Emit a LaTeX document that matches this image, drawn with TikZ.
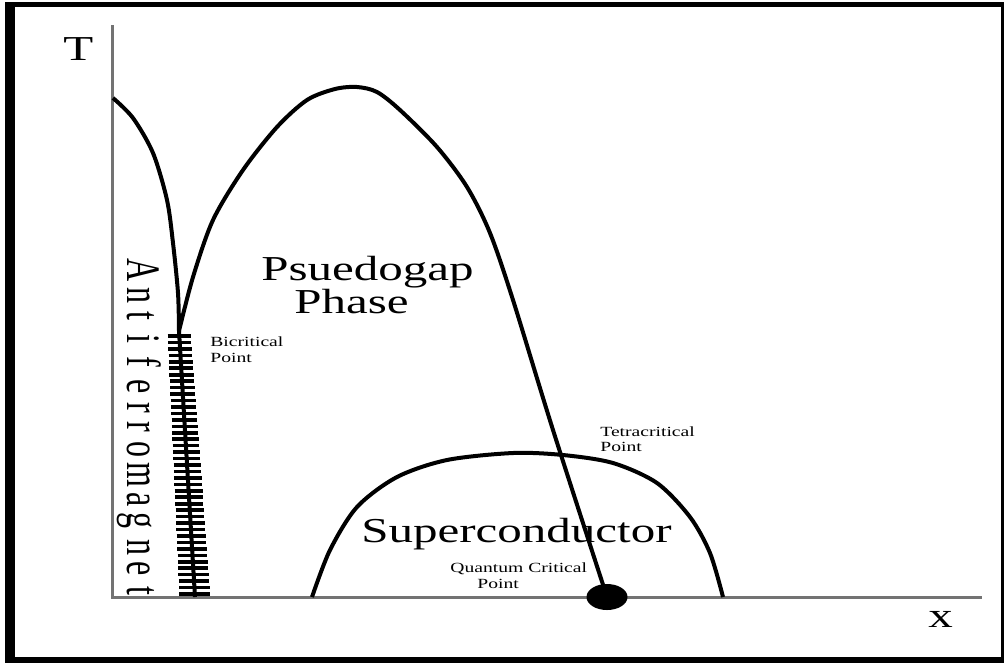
\documentclass[tikz,border=0pt]{standalone}
\usepackage{fontspec}
\setmainfont{Liberation Serif}
\usetikzlibrary{shapes.geometric}
\newcommand{\hstretch}[1]{\scalebox{1.4}[1]{#1}}
\begin{document}
\begin{tikzpicture}[x=0.5pt,y=-0.5pt,
  framebar/.style={fill=black},
  axisline/.style={draw=black!55, line width=1.5pt},
  curve/.style={draw=black, line width=2pt, line join=round},
  hatchline/.style={draw=black, line width=2pt},
  hatchtick/.style={draw=black, line width=1.8pt},
  qcpdot/.style={ellipse, fill=black, inner sep=0pt, minimum width=20.5pt, minimum height=13pt},
  biglabel/.style={anchor=base west, inner sep=0pt, font=\fontsize{17.5}{20}\selectfont},
  smalllabel/.style={anchor=base west, inner sep=0pt, font=\fontsize{7}{8}\selectfont},
  afmletter/.style={rotate=-90, anchor=base west, inner sep=0pt, font=\fontsize{16}{18}\selectfont}
]
\useasboundingbox (0,0) rectangle (1005,666);
\fill[white] (0,0) rectangle (1005,666);
% frame
\fill[framebar] (5,2) rectangle (15,663);
\fill[framebar] (5,2) rectangle (1004,7);
\fill[framebar] (1001,2) rectangle (1004,663);
\fill[framebar] (5,657) rectangle (1004,663);
% axes
\coordinate (ytop) at (112,25);
\coordinate (origin) at (112,597);
\coordinate (xend) at (982,597);
\draw[axisline] (ytop) -- (origin) -- (xend);
% key points
\coordinate (afmtop) at (113,98);
\coordinate (bc) at (179,331);
\coordinate (hb) at (195,597);
\coordinate (scL) at (312,597);
\coordinate (scR) at (723,597);
% superconductor dome
\draw[curve] plot[smooth] coordinates {(scL) (330,550) (357,507) (397,477) (447,460) (513,453) (563,455) (613,463) (657,483) (690,517) (710,553) (scR)};
% AFM boundary
\draw[curve] plot[smooth] coordinates {(afmtop) (133,118) (153,153) (167,200) (173,243) (178,293) (bc)};
% quantum critical point
\node[qcpdot] (qcp) at (607,597) {};
% pseudogap boundary
\draw[curve] plot[smooth] coordinates {(bc) (193,277) (213,220) (243,170) (277,127) (307,100) (335,89) (357,87) (377,92) (400,110) (437,147) (467,187) (490,233) (513,300) (553,430) (qcp.center)};
% hatched first-order line
\draw[hatchline] (bc) -- (hb);
\foreach \i in {0,...,40}{
  \pgfmathsetmacro{\yy}{336+\i*6.45}
  \pgfmathsetmacro{\xx}{179+(\yy-331)*16/266}
  \pgfmathsetmacro{\ww}{11.5+4*(\yy-331)/266}
  \draw[hatchtick] (\xx-\ww,\yy) -- (\xx+\ww,\yy);
}
% Antiferromagnet letters
\foreach \l/\yy [count=\k] in {A/258, n/287, t/311, i/334, f/356, e/379, r/402, r/421, o/441, m/462, a/492, g/512, n/539, e/561, t/586}{
  \node[afmletter] (afm\k) at (127,\yy) {\scalebox{1}[1.5]{\l}};
}
% labels
\node[biglabel] (Tlab) at (63,60) {\hstretch{T}};
\node[biglabel] (xlab) at (928,627) {\hstretch{x}};
\node[biglabel] (pg1) at (261,280) {\hstretch{Psuedogap}};
\node[biglabel] (pg2) at (294,313) {\hstretch{Phase}};
\node[biglabel] (sc) at (361,542) {\hstretch{Superconductor}};
\node[smalllabel] (bc1) at (210,346) {\hstretch{Bicritical}};
\node[smalllabel] (bc2) at (210,362) {\hstretch{Point}};
\node[smalllabel] (tc1) at (600,436) {\hstretch{Tetracritical}};
\node[smalllabel] (tc2) at (600,451) {\hstretch{Point}};
\node[smalllabel] (qc1) at (450,572) {\hstretch{Quantum Critical}};
\node[smalllabel] (qc2) at (477,588) {\hstretch{Point}};
\end{tikzpicture}
\end{document}
